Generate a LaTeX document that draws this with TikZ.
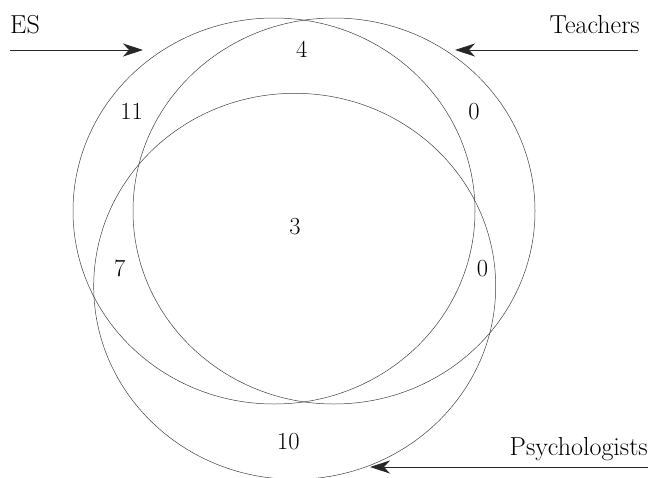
\documentclass[tikz,border=0pt]{standalone}
\usetikzlibrary{arrows.meta}
\begin{document}
\begin{tikzpicture}[x=1pt,y=-1pt,
  setline/.style={line width=0.5pt,draw=black!75},
  arr/.style={line width=0.8pt,draw=black!85,-{Stealth[length=20pt,width=13pt,inset=6pt]}},
  lbl/.style={inner sep=0pt,font=\fontsize{26}{30}\selectfont},
  num/.style={inner sep=0pt,font=\fontsize{24.5}{28}\selectfont}]
\useasboundingbox (0,0) rectangle (650,477);
\begin{scope}
\clip (0,0) rectangle (650,477);
\draw[setline] (274,211) ellipse [x radius=201pt, y radius=193pt];
\draw[setline] (334,211) ellipse [x radius=201pt, y radius=193pt];
\draw[setline] (294.7,286.3) ellipse [x radius=201pt, y radius=193pt];
\end{scope}
% labels
\node[lbl,anchor=base west] (es) at (10,33) {ES};
\node[lbl,anchor=base east] (teach) at (640,33) {Teachers};
\node[lbl,anchor=base east] (psy) at (648,455) {Psychologists};
% arrows
\coordinate (esS) at (10,50);
\coordinate (esE) at (143,50);
\coordinate (tS) at (638,50);
\coordinate (tE) at (455,50);
\coordinate (pS) at (648,467);
\coordinate (pE) at (370,467);
\draw[arr] (esS) -- (esE);
\draw[arr] (tS) -- (tE);
\draw[arr] (pS) -- (pE);
% numbers
\node[num] (n4) at (301.7,49) {4};
\node[num] (n11) at (131.7,111) {11};
\node[num] (n0a) at (474,111.5) {0};
\node[num] (n3) at (295,227) {3};
\node[num] (n7) at (119.7,268.7) {7};
\node[num] (n0b) at (482.5,269) {0};
\node[num] (n10) at (288.3,442) {10};
\end{tikzpicture}
\end{document}
